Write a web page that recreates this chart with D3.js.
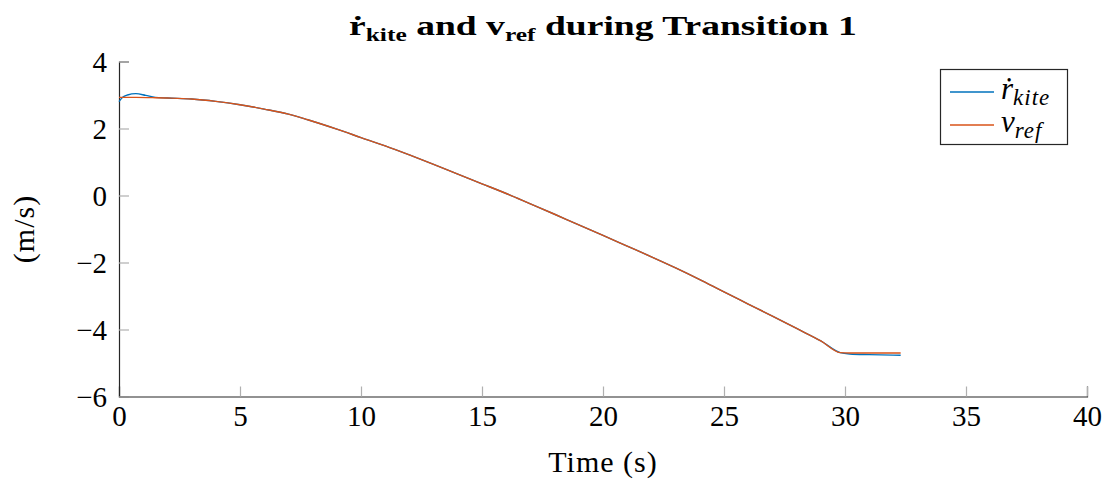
<!DOCTYPE html>
<html>
<head>
<meta charset="utf-8">
<script src="https://cdn.jsdelivr.net/npm/d3@7/dist/d3.min.js"></script>
<style>
  html, body { margin: 0; padding: 0; background: #fff; }
  svg { display: block; }
  text { font-family: "Liberation Serif", "Times New Roman", serif; fill: #000; }
</style>
</head>
<body>
<svg id="chart" width="1112" height="479"></svg>
<script>
// Measured winch reel-out speed and its reference during transition 1
const timeKite = [0, 0.15, 0.35, 0.7, 1.1, 1.5, 2, 3, 4, 5, 6, 7, 7.8, 9, 10, 11, 12, 13, 14, 15, 16, 17, 18, 19, 20, 21, 22, 23, 24, 25, 26, 27, 28, 29, 29.8, 30.2, 31, 32.3];
const rdotKite = [2.8, 2.93, 3.0, 3.04, 2.99, 2.93, 2.91, 2.88, 2.81, 2.71, 2.58, 2.43, 2.26, 1.98, 1.73, 1.48, 1.21, 0.93, 0.64, 0.35, 0.06, -0.25, -0.56, -0.88, -1.19, -1.51, -1.83, -2.16, -2.51, -2.88, -3.24, -3.6, -3.97, -4.34, -4.69, -4.73, -4.75, -4.77];
const timeRef = [0, 0.7, 1.5, 2, 3, 4, 5, 6, 7, 7.8, 9, 10, 11, 12, 13, 14, 15, 16, 17, 18, 19, 20, 21, 22, 23, 24, 25, 26, 27, 28, 29, 29.8, 30.2, 32.3];
const vRef = [2.93, 2.93, 2.92, 2.91, 2.88, 2.81, 2.71, 2.58, 2.43, 2.26, 1.98, 1.73, 1.48, 1.21, 0.93, 0.64, 0.35, 0.06, -0.25, -0.56, -0.88, -1.19, -1.51, -1.83, -2.16, -2.51, -2.88, -3.24, -3.6, -3.97, -4.34, -4.69, -4.7, -4.7];
const xTicks = [0, 5, 10, 15, 20, 25, 30, 35, 40];
const yTicks = [-6, -4, -2, 0, 2, 4];

const svg = d3.select("#chart");
const plotLeft = 119, plotRight = 1087, plotTop = 61.5, plotBottom = 396.5;

const x = d3.scaleLinear().domain([0, 40]).range([plotLeft, plotRight]);
const y = d3.scaleLinear().domain([-6, 4]).range([plotBottom, plotTop]);

const blue = "#0072BD", orange = "#D95319";

// Axes: left and bottom only, ticks pointing inward
const xAxis = d3.axisBottom(x).tickValues(xTicks).tickSize(-10).tickPadding(8)
  .tickFormat(d => String(d));
const yAxis = d3.axisLeft(y).tickValues(yTicks).tickSize(-10).tickPadding(12)
  .tickFormat(d => d < 0 ? "\u2212" + Math.abs(d) : String(d));

const gx = svg.append("g").attr("transform", `translate(0,${plotBottom})`).call(xAxis);
const gy = svg.append("g").attr("transform", `translate(${plotLeft},0)`).call(yAxis);

[gx, gy].forEach(g => {
  g.select(".domain").attr("stroke", "#262626").attr("stroke-width", 1.2);
  g.selectAll(".tick line").attr("stroke", "#b0b0b0").attr("stroke-width", 1.2);
  g.selectAll(".tick text").attr("font-family", "Liberation Serif, serif")
    .attr("font-size", 29).attr("fill", "#000");
});
gx.selectAll(".tick text").attr("dy", "0.75em");
gy.selectAll(".tick text").attr("dy", "0.35em");

// Curves
const lineKite = d3.line().x((d, i) => x(timeKite[i])).y(d => y(d)).curve(d3.curveMonotoneX);
const lineRef = d3.line().x((d, i) => x(timeRef[i])).y(d => y(d)).curve(d3.curveMonotoneX);

svg.append("path").datum(rdotKite).attr("d", lineKite)
  .attr("fill", "none").attr("stroke", blue).attr("stroke-width", 1.4);
svg.append("path").datum(vRef).attr("d", lineRef)
  .attr("fill", "none").attr("stroke", orange).attr("stroke-width", 1.4);

// Title: wide bold face, centred over the axes
const titleW = 508;
const titleG = svg.append("g");
const title = titleG.append("text").attr("x", 0).attr("y", 0)
  .attr("font-size", 28).attr("font-weight", "bold");
title.append("tspan").text("\u1E59");
title.append("tspan").attr("font-size", 19).attr("dy", 6).text("kite");
title.append("tspan").attr("dy", -6).text(" and v");
title.append("tspan").attr("font-size", 19).attr("dy", 6).text("ref");
title.append("tspan").attr("dy", -6).text(" during Transition 1");
const sx = titleW / title.node().getComputedTextLength();
titleG.attr("transform",
  `translate(${(plotLeft + plotRight) / 2 - titleW / 2},35) scale(${sx},1)`);

// Axis labels
svg.append("text").attr("x", (plotLeft + plotRight) / 2).attr("y", 472)
  .attr("text-anchor", "middle").attr("font-size", 30).attr("letter-spacing", 1)
  .text("Time (s)");
svg.append("text").attr("transform", `translate(34,${(plotTop + plotBottom) / 2}) rotate(-90)`)
  .attr("text-anchor", "middle").attr("font-size", 30).attr("letter-spacing", 1)
  .text("(m/s)");

// Legend
const lg = svg.append("g");
lg.append("rect").attr("x", 940.5).attr("y", 69.5).attr("width", 127).attr("height", 75)
  .attr("fill", "#fff").attr("stroke", "#262626").attr("stroke-width", 1.2);
const items = [
  { main: "\u1E59", sub: "kite", color: blue, yy: 92 },
  { main: "v", sub: "ref", color: orange, yy: 125 }
];
items.forEach(it => {
  lg.append("line").attr("x1", 950).attr("x2", 994).attr("y1", it.yy).attr("y2", it.yy)
    .attr("stroke", it.color).attr("stroke-width", 1.4);
  const t = lg.append("text").attr("x", 1001).attr("y", it.yy + 7)
    .attr("font-size", 31).attr("font-style", "italic");
  t.append("tspan").text(it.main);
  t.append("tspan").attr("font-size", 23).attr("dy", 6).attr("letter-spacing", 1).text(it.sub);
});
</script>
</body>
</html>
